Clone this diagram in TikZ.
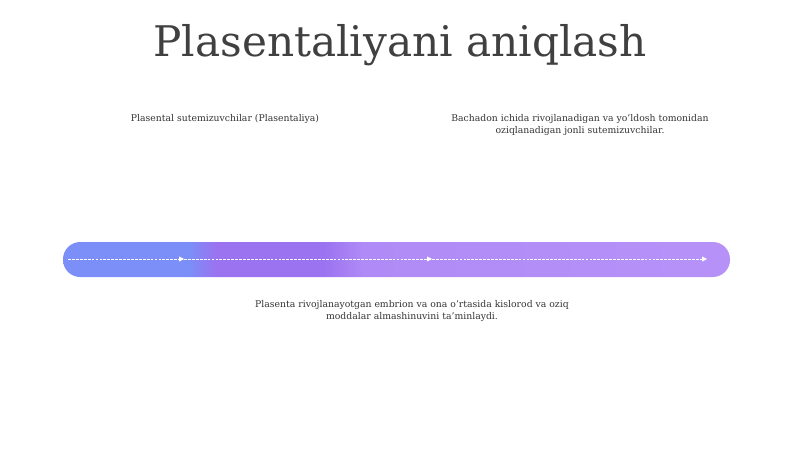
\documentclass[tikz,border=0pt]{standalone}
\usepackage{fontspec}
\setmainfont{DejaVu Serif}
\usetikzlibrary{arrows.meta,positioning}
\definecolor{titlegray}{RGB}{64,64,64}
\definecolor{textgray}{RGB}{51,51,51}
\definecolor{barblue}{RGB}{124,142,247}
\definecolor{barpurple}{RGB}{155,114,240}
\definecolor{barlilac}{RGB}{176,138,246}
\definecolor{barlilacend}{RGB}{182,146,248}
\pgfdeclarehorizontalshading{barshade}{100bp}{color(0bp)=(barblue); color(25bp)=(barblue); color(34.5bp)=(barblue); color(36.5bp)=(barpurple); color(44.5bp)=(barpurple); color(47.5bp)=(barlilac); color(75bp)=(barlilacend); color(100bp)=(barlilacend)}
\tikzset{
  label text/.style={font=\fontsize{6.6}{8.6}\selectfont, text=textgray, align=center},
  flow line/.style={white, line width=0.5pt, dash pattern=on 2pt off 0.8pt, -{Triangle[length=3.5pt,width=3.5pt]}}
}

\begin{document}
\begin{tikzpicture}[x=0.025cm,y=-0.025cm]
    \useasboundingbox (0,0) rectangle (800,449);

    % Title
    \node[font=\fontsize{30}{36}\selectfont, text=titlegray] (title) at (400,45) {Plasentaliyani aniqlash};

    % Labels above the bar
    \node[label text] (term) at (225,119) {Plasental sutemizuvchilar (Plasentaliya)};
    \node[label text] (define) at (580,125) {Bachadon ichida rivojlanadigan va yo'ldosh tomonidan\\oziqlanadigan jonli sutemizuvchilar.};

    % Bar
    \shade[shading=barshade, rounded corners=0.43cm] (63,242) rectangle (730,277);

    % Flow on the bar
    \coordinate (start) at (68,259);
    \coordinate (stepa) at (184,259);
    \coordinate (stepb) at (432,259);
    \coordinate (finish) at (707,259);
    \draw[flow line] (start) -- (stepa);
    \draw[flow line] (stepa) -- (stepb);
    \draw[flow line] (stepb) -- (finish);

    % Label below the bar
    \node[label text] (role) at (412,311) {Plasenta rivojlanayotgan embrion va ona o'rtasida kislorod va oziq\\moddalar almashinuvini ta'minlaydi.};
\end{tikzpicture}
\end{document}
